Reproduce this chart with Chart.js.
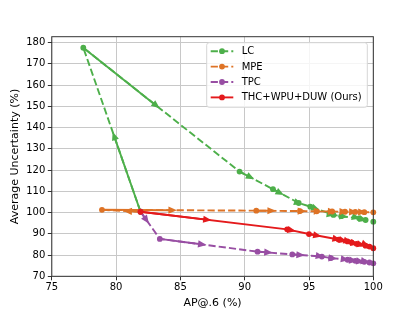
<!DOCTYPE html>
<html><head><meta charset="utf-8">
<script src="https://cdn.jsdelivr.net/npm/chart.js@4.4.0/dist/chart.umd.min.js"></script>
<style>html,body{margin:0;padding:0;background:#fff;}#wrap{width:415px;height:311px;position:relative;}</style>
</head><body><div id="wrap"><canvas id="c"></canvas></div>
<script>
// ---- data ----
const seriesNames = ['LC', 'MPE', 'TPC', 'THC+WPU+DUW (Ours)'];
const lcX = [81.9, 77.45, 89.6, 92.2, 94.2, 95.1, 96.9, 97.5, 98.9, 99.4, 100];
const lcY = [100.4, 177.6, 119.3, 111.0, 104.5, 102.8, 98.9, 98.3, 97.3, 96.5, 95.7];
const mpeX = [81.9, 78.9, 90.9, 94.3, 95.6, 96.8, 97.8, 98.6, 99.3, 100];
const mpeY = [100.4, 101.3, 100.9, 100.7, 100.6, 100.5, 100.4, 100.3, 100.2, 100.1];
const tpcX = [81.9, 83.4, 91.0, 93.7, 96.0, 96.7, 98.0, 98.6, 99.3, 99.7, 100];
const tpcY = [100.4, 87.6, 81.6, 80.3, 79.3, 78.6, 77.8, 77.3, 76.8, 76.5, 76.1];
const oursX = [81.9, 93.3, 95.0, 97.3, 98.0, 98.3, 98.7, 99.4, 99.7, 100];
const oursY = [100.4, 92.1, 89.9, 87.3, 86.4, 86.0, 85.3, 84.4, 84.0, 83.2];
const xTicks = [75, 80, 85, 90, 95, 100];
const yTicks = [70, 80, 90, 100, 110, 120, 130, 140, 150, 160, 170, 180];
const xTitle = 'AP@.6 (%)';
const yTitle = 'Average Uncertainty (%)';

// ---- styles ----
const colors = ['#4daf4a', '#de7326', '#984ea3', '#e41a1c'];
const dashes = [[7.2, 3.1], [7.2, 3.1], [7.2, 3.1], []];
const LW = 1.9;
const FONT = "'DejaVu Sans', sans-serif";

const pts = (xs, ys) => xs.map((x, i) => ({x: x, y: ys[i]}));
const allData = [pts(lcX, lcY), pts(mpeX, mpeY), pts(tpcX, tpcY), pts(oursX, oursY)];

const datasets = allData.map((d, i) => ({
  label: seriesNames[i],
  data: d,
  showLine: true,
  borderColor: colors[i],
  backgroundColor: colors[i],
  borderWidth: LW,
  borderDash: dashes[i],
  pointRadius: 2.9,
  pointBorderWidth: 0,
  pointHoverRadius: 2.9,
  order: 4 - i,
  clip: 4
}));

const arrowPlugin = {
  id: 'arrows',
  afterDatasetDraw(chart, args) {
    const meta = args.meta;
    const ds = chart.data.datasets[args.index];
    const ctx = chart.ctx;
    const p = meta.data;
    ctx.save();
    ctx.strokeStyle = ds.borderColor;
    ctx.fillStyle = ds.borderColor;
    ctx.lineWidth = LW;
    ctx.setLineDash([]);
    ctx.lineJoin = 'miter';
    for (let i = 0; i < p.length - 1; i++) {
      const x0 = p[i].x, y0 = p[i].y, x1 = p[i + 1].x, y1 = p[i + 1].y;
      const dx = x1 - x0, dy = y1 - y0;
      const len = Math.hypot(dx, dy);
      if (len < 0.01) continue;
      const ux = dx / len, uy = dy / len;
      const mx = (x0 + x1) / 2, my = (y0 + y1) / 2;
      const tx = mx - ux * 2.2, ty = my - uy * 2.2;
      const hl = 8.5, hw = 3.6;
      const bx = tx - ux * hl, by = ty - uy * hl;
      // solid shaft
      ctx.beginPath();
      ctx.moveTo(x0, y0);
      ctx.lineTo(bx + ux * 1, by + uy * 1);
      ctx.stroke();
      // head
      ctx.beginPath();
      ctx.moveTo(tx, ty);
      ctx.lineTo(bx - uy * hw, by + ux * hw);
      ctx.lineTo(bx + uy * hw, by - ux * hw);
      ctx.closePath();
      ctx.fill();
    }
    ctx.restore();
  }
};

const framePlugin = {
  id: 'frame',
  afterDraw(chart) {
    const ctx = chart.ctx, a = chart.chartArea;
    ctx.save();
    ctx.strokeStyle = '#333';
    ctx.lineWidth = 1;
    ctx.strokeRect(a.left, a.top, a.right - a.left, a.bottom - a.top);
    // legend
    const lx = 206.7, ly = 42.7, lw = 160.6, lh = 64.6, r = 2.5;
    ctx.beginPath();
    ctx.roundRect(lx, ly, lw, lh, r);
    ctx.fillStyle = 'rgba(255,255,255,0.82)';
    ctx.fill();
    ctx.strokeStyle = '#d6d6d6';
    ctx.stroke();
    chart.data.datasets.forEach((ds, i) => {
      const cy = 51.2 + i * 15.4;
      ctx.strokeStyle = ds.borderColor;
      ctx.fillStyle = ds.borderColor;
      ctx.lineWidth = LW;
      ctx.setLineDash(ds.borderDash);
      ctx.beginPath();
      ctx.moveTo(210.7, cy);
      ctx.lineTo(233.3, cy);
      ctx.stroke();
      ctx.setLineDash([]);
      ctx.beginPath();
      ctx.arc(222, cy, 2.9, 0, Math.PI * 2);
      ctx.fill();
      ctx.fillStyle = '#000';
      ctx.font = '10px ' + FONT;
      ctx.textBaseline = 'middle';
      ctx.textAlign = 'left';
      ctx.fillText(ds.label, 241.7, cy + 0.5);
    });
    ctx.restore();
  }
};

Chart.defaults.font.family = FONT;
Chart.defaults.color = '#000';

new Chart(document.getElementById('c'), {
  type: 'scatter',
  data: {datasets: datasets},
  options: {
    responsive: true,
    maintainAspectRatio: false,
    animation: false,
    events: [],
    layout: {padding: {left: 0, right: 41.7, top: 36.7, bottom: 0}},
    plugins: {legend: {display: false}, tooltip: {enabled: false}},
    scales: {
      x: {
        type: 'linear', min: 75, max: 100,
        afterFit: s => { s.height = 34.7; },
        afterBuildTicks: s => { s.ticks = xTicks.map(v => ({value: v})); },
        ticks: {font: {size: 10}, padding: 1, color: '#000', maxRotation: 0, autoSkip: false},
        grid: {color: '#c8c8c8', lineWidth: 1, tickLength: 4, tickColor: '#333', tickWidth: 1},
        border: {display: false},
        title: {display: true, text: xTitle, font: {size: 11}, color: '#000', padding: {top: 0, bottom: 1.4}}
      },
      y: {
        type: 'linear', min: 70, max: 182.8,
        afterFit: s => { s.width = 51.8; },
        afterBuildTicks: s => { s.ticks = yTicks.map(v => ({value: v})); },
        ticks: {font: {size: 10}, padding: 2.5, color: '#000', autoSkip: false},
        grid: {color: '#c8c8c8', lineWidth: 1, tickLength: 4, tickColor: '#333', tickWidth: 1},
        border: {display: false},
        title: {display: true, text: yTitle, font: {size: 11}, color: '#000', padding: {top: 8.4, bottom: 0}}
      }
    }
  },
  plugins: [arrowPlugin, framePlugin]
});
</script>
</body></html>
